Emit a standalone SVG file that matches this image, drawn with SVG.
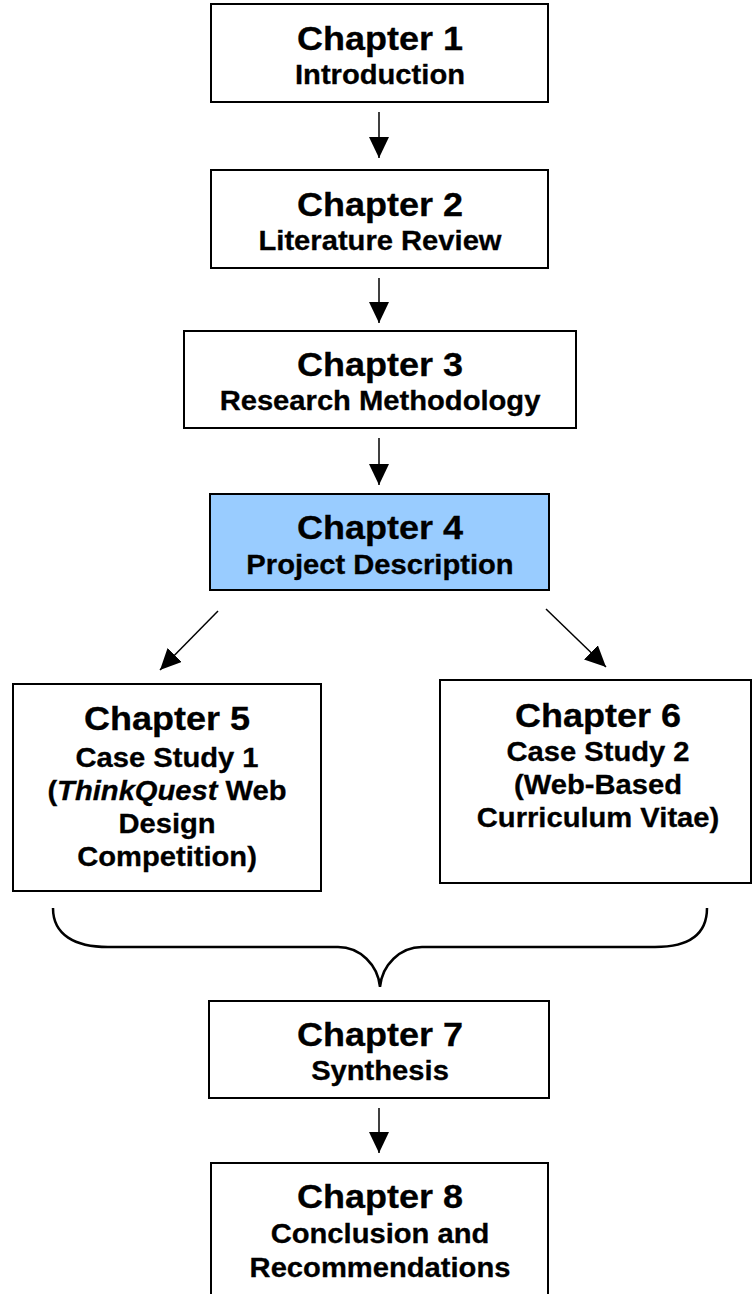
<svg xmlns="http://www.w3.org/2000/svg" width="752" height="1294" viewBox="0 0 752 1294">
<style>
.box{fill:#fff;stroke:#000;stroke-width:2}
.hl{fill:#99ccff}
.t{font-family:"Liberation Sans",Arial,sans-serif;font-weight:bold;text-anchor:middle;fill:#000;stroke:#000;stroke-width:0.3}
.h{font-size:34px}
.s{font-size:27px}
.c{stroke:#000;stroke-width:1.5;fill:none}
</style>
<defs>
<marker id="ah" markerUnits="userSpaceOnUse" markerWidth="21" markerHeight="20" viewBox="0 0 21 20" refX="21" refY="10" orient="auto">
<path d="M0,0 L21,10 L0,20 Z" fill="#000"/>
</marker>
</defs>
<g id="connectors">
<line class="c" x1="379" y1="112" x2="379" y2="158" marker-end="url(#ah)"/>
<line class="c" x1="379" y1="278" x2="379" y2="323" marker-end="url(#ah)"/>
<line class="c" x1="379" y1="438" x2="379" y2="485" marker-end="url(#ah)"/>
<line class="c" x1="218" y1="611" x2="160" y2="670" marker-end="url(#ah)"/>
<line class="c" x1="546" y1="609" x2="606" y2="667" marker-end="url(#ah)"/>
<path class="c" style="stroke-width:2.5" d="M53,908 C53,935 75,947 108,947 L338,947 C360,947 378,965 380,987 C382,965 400,947 422,947 L655,947 C688,947 707,935 707,908"/>
<line class="c" x1="379" y1="1108" x2="379" y2="1153" marker-end="url(#ah)"/>
</g>
<g id="ch1">
<rect class="box" x="211" y="4" width="337" height="98"/>
<text class="t h" transform="translate(380 50) scale(1.06 1)">Chapter 1</text>
<text class="t s" transform="translate(380 84) scale(1.08 1)">Introduction</text>
</g>
<g id="ch2">
<rect class="box" x="211" y="170" width="337" height="98"/>
<text class="t h" transform="translate(380 216) scale(1.06 1)">Chapter 2</text>
<text class="t s" transform="translate(380 250) scale(1.08 1)">Literature Review</text>
</g>
<g id="ch3">
<rect class="box" x="184" y="331" width="392" height="97"/>
<text class="t h" transform="translate(380 376) scale(1.06 1)">Chapter 3</text>
<text class="t s" transform="translate(380 410) scale(1.08 1)">Research Methodology</text>
</g>
<g id="ch4">
<rect class="box hl" x="210" y="494" width="339" height="96"/>
<text class="t h" transform="translate(380 539) scale(1.06 1)">Chapter 4</text>
<text class="t s" transform="translate(380 574) scale(1.08 1)">Project Description</text>
</g>
<g id="ch5">
<rect class="box" x="13" y="684" width="308" height="207"/>
<text class="t h" transform="translate(167 730) scale(1.06 1)">Chapter 5</text>
<text class="t s" transform="translate(167 767) scale(1.08 1)">Case Study 1</text>
<text class="t s" transform="translate(167 800) scale(1.08 1)">(<tspan font-style="italic">ThinkQuest</tspan> Web</text>
<text class="t s" transform="translate(167 833) scale(1.08 1)">Design</text>
<text class="t s" transform="translate(167 866) scale(1.08 1)">Competition)</text>
</g>
<g id="ch6">
<rect class="box" x="440" y="680" width="311" height="203"/>
<text class="t h" transform="translate(598 727) scale(1.06 1)">Chapter 6</text>
<text class="t s" transform="translate(598 761) scale(1.08 1)">Case Study 2</text>
<text class="t s" transform="translate(598 794) scale(1.08 1)">(Web-Based</text>
<text class="t s" transform="translate(598 827) scale(1.08 1)">Curriculum Vitae)</text>
</g>
<g id="ch7">
<rect class="box" x="209" y="1001" width="340" height="97"/>
<text class="t h" transform="translate(380 1046) scale(1.06 1)">Chapter 7</text>
<text class="t s" transform="translate(380 1080) scale(1.08 1)">Synthesis</text>
</g>
<g id="ch8">
<rect class="box" x="211" y="1163" width="337" height="150"/>
<text class="t h" transform="translate(380 1208) scale(1.06 1)">Chapter 8</text>
<text class="t s" transform="translate(380 1243) scale(1.08 1)">Conclusion and</text>
<text class="t s" transform="translate(380 1277) scale(1.08 1)">Recommendations</text>
</g>
</svg>
